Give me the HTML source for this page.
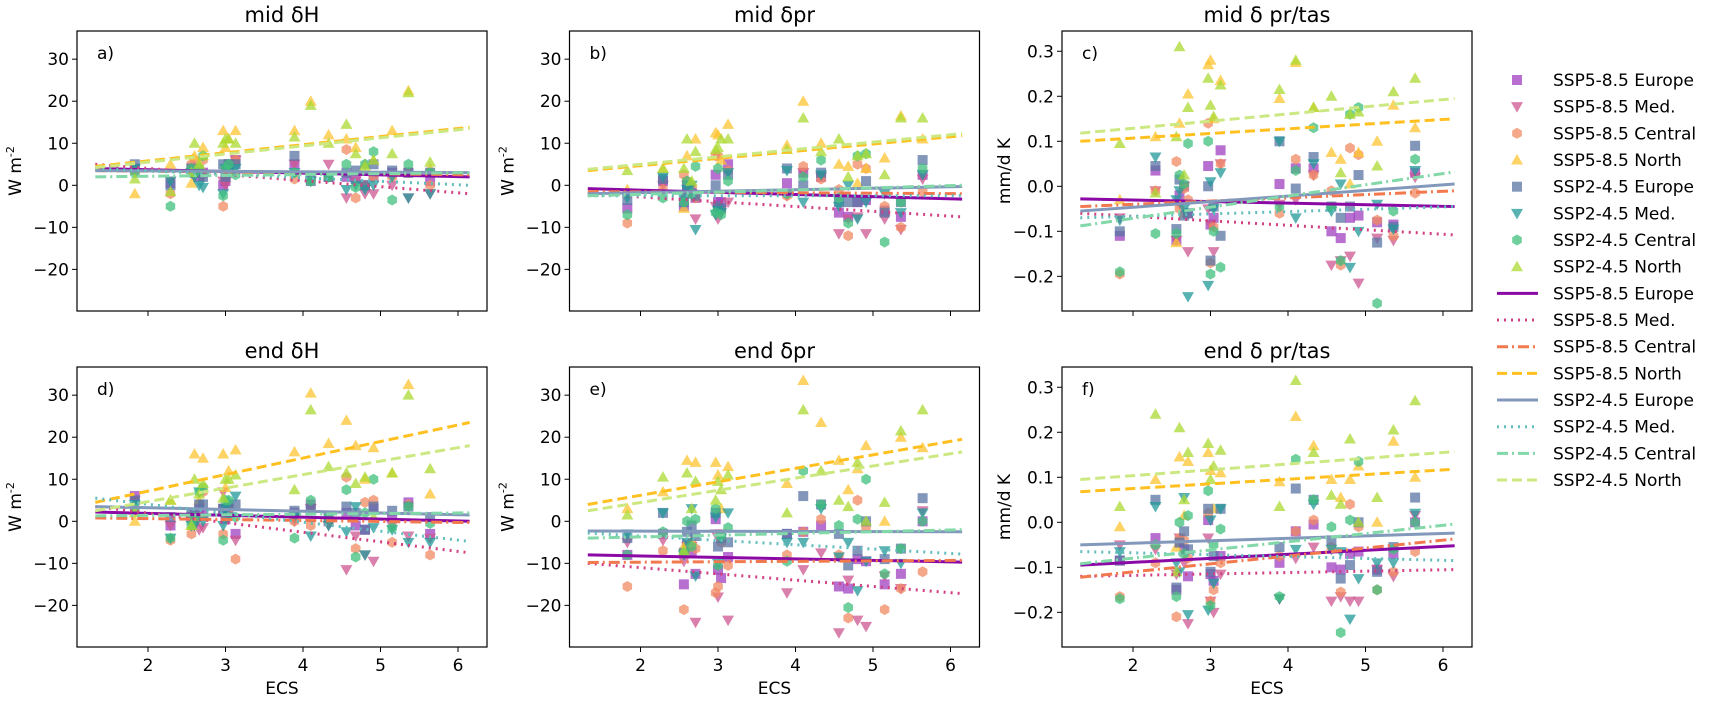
<!DOCTYPE html>
<html><head><meta charset="utf-8">
<style>
body{margin:0;background:#fff;}
svg{display:block;font-family:"DejaVu Sans","Liberation Sans",sans-serif;}
</style></head>
<body>
<svg id="fig" width="1720" height="702" viewBox="0 0 1720 702"></svg>
<script>
// ===== data =====
const ecs = [1.83,2.29,2.56,2.60,2.66,2.71,2.97,3.00,3.04,3.13,3.89,4.10,4.33,4.56,4.68,4.80,4.91,5.15,5.36,5.64];
const seriesNames = ["SSP5-8.5 Europe","SSP5-8.5 Med.","SSP5-8.5 Central","SSP5-8.5 North","SSP2-4.5 Europe","SSP2-4.5 Med.","SSP2-4.5 Central","SSP2-4.5 North"];
const panelTitles = ["mid \u03b4H","mid \u03b4pr","mid \u03b4 pr/tas","end \u03b4H","end \u03b4pr","end \u03b4 pr/tas"];
const panelLetters = ["a)","b)","c)","d)","e)","f)"];
const xTicks = [2,3,4,5,6];
const yTicksW = [-20,-10,0,10,20,30];
const yTicksR = [-0.2,-0.1,0.0,0.1,0.2,0.3];
const trendX = [1.32,6.15];

const panelA = [
 [4,0.5,4,3,2,3,0,1,5,6,5,2,2,2,1.5,0,2,3,3,1],
 [4,1,3,2,3,2,1,0,2,6,5,1,5,-3,1,-2,-2,0,-3,-2],
 [3,-2,5,6,4,6,-5,4,3,6,1.5,1,2,8.5,-3,0,2,2,3,0],
 [-2,5,0.5,7,5,9,13,9,11,13,13,20,12,11,9,5,6,13,22.5,4],
 [5,0,4,3,3,2,5,2,5,5,7,1,2,3,3.5,0,5,3.5,3,3],
 [4,1,3,2,0,-0.5,-2,4,3,4,3,1,2,-1,0,-1,0,2,-3,-2],
 [3,-5,4,3,4,7,-2.5,4,5,2.5,3,1,2,5,-0.5,5,8,-3.5,5,3],
 [1.5,-1.5,3,10,5,7,10,11,11,10,11.5,19,10,14.5,7.5,4.5,6,7.5,22,5.5]];
const trendA = [[4,2],[5,-2],[3.5,2.5],[4.5,13.8],[3.5,3],[4,0],[2,3],[4.2,13.5]];

const panelB = [
 [-5.5,1,-5,-1,-1,-3,2.5,-4,-4,5,0.5,3,2,-6.5,-7.5,-4,-3.5,-6,-7.5,2.5],
 [-2,0,-3,0,-2,-8,-5,-8,-6,-4,-2.5,3,2,-11.5,-8,-7.5,-11.5,-8,-10.5,1.5],
 [-9,-1,2.5,1,-2,-3,7,7,-6,3.5,-2.5,4.5,1.5,-1,-12,5,4,-5,-10,-1.5],
 [-1,4,-5.5,7,0.5,11,12.5,12,6,14.5,9.5,20,10,5,4.5,0.5,4,6.5,16.5,11],
 [-3.5,1.5,-4,0,-2,-2.5,0,-5,-5.5,2.5,4,0,3,-4,-4,-4,1,-6.5,-4,6],
 [-3,2,-3,-1,0,-10.5,-7,-6,-6.5,3,3.5,-4,2.5,-5,0,-8,-4,-2,-6.5,2.5],
 [-7,-3,-4,1,-2,4.5,-6.5,4,-7,1,-2,2,6,-3,-9,7,7.5,-13.5,-4,4],
 [3.5,4,4,11,1,8,8.5,9,11,11,8.5,16,8,11,2,7,7.5,2.5,16,16]];
const trendB = [[-0.8,-3.3],[-2,-7.5],[-1.5,-2],[3.5,11.8],[-2,-0.3],[-2.5,-2.5],[-2.5,0],[3.8,12.3]];

const panelC = [
 [-0.11,0.035,-0.12,-0.02,0,-0.06,0.045,-0.085,-0.07,0.08,0.005,0.04,0.04,-0.1,-0.115,-0.07,-0.065,-0.08,-0.085,0.03],
 [-0.07,-0.01,-0.12,-0.04,0,-0.145,-0.05,-0.085,-0.145,0.05,-0.04,-0.03,0.025,-0.175,-0.165,-0.155,-0.215,-0.115,-0.12,0.02],
 [-0.195,-0.01,0.055,-0.05,-0.005,-0.03,0.14,-0.17,-0.09,0.05,-0.06,0.06,0.025,-0.01,-0.175,0.085,0.07,-0.075,-0.11,-0.015],
 [-0.03,0.11,-0.125,0.14,-0.06,0.205,0.27,0.28,0.15,0.235,0.195,0.275,0.175,0.075,0.06,0.005,0.075,0.1,0.18,0.13],
 [-0.1,0.045,-0.095,0.015,-0.065,-0.06,0,-0.165,-0.045,-0.11,0.1,-0.005,0.065,-0.045,-0.07,-0.045,0.025,-0.125,-0.09,0.09],
 [-0.075,0.065,-0.03,-0.01,-0.05,-0.245,-0.22,0.01,-0.05,0.03,0.1,-0.07,0.05,-0.055,0.005,-0.18,-0.1,-0.04,-0.095,0.035],
 [-0.19,-0.105,-0.105,0.025,0.005,0.095,0.1,-0.195,-0.1,-0.18,-0.045,0.035,0.13,-0.045,-0.165,0.16,0.175,-0.26,-0.055,0.06],
 [0.095,-0.015,0.11,0.31,0.025,0.175,0.24,0.18,0.155,0.225,0.215,0.28,0.175,0.2,0.03,0.16,0.165,0.045,0.21,0.24]];
const trendC = [[-0.028,-0.045],[-0.06,-0.108],[-0.045,-0.01],[0.1,0.15],[-0.055,0.005],[-0.07,-0.045],[-0.088,0.032],[0.118,0.195]];

const panelD = [
 [6,-1,1,0,3,2,3,0.5,2,-3,2,4,0,2,-1,-2,3,1,4.5,-3],
 [5,-1,1,-1,-2,-1.5,7,3,3,-4.5,0,3,-1,-11.5,-3.5,-8,-9.5,-1,-3.5,-4],
 [3,-4.5,-3,1,1,7,-3,1,3,-9,0,-1,0,10.5,-6.5,4.5,5,-5,4,-8],
 [0,5,-1,16,5,15,16,8,12,17,16.5,30.5,18.5,24,18,10,17.5,11.5,32.5,6.5],
 [5,1,2,2,4,4,3,2,4,4,2.5,3,1,3.5,2,-2,3.5,2.5,3.5,1],
 [4,-4,-1,-1,7,0,-1,3,1,6,1,-3.5,-1,-2.5,3.5,-8,-1.5,-2,-5,-5],
 [3,-4,-1,1,7,8,-4.5,5,5,1,-4,5,1,7.5,-8.5,2,10,-1.5,3.5,-0.5],
 [2,5,-1,10,6.5,9,5.5,10,10,11,7.5,26.5,13,11.5,9,10.5,1,11.5,30,12.5]];
const trendD = [[2.2,0],[3.5,-7.5],[0.8,-0.3],[4.5,23.5],[3.5,1.5],[5.5,-4.8],[1.3,2],[2.5,18]];

const panelE = [
 [-8,-3,-15,-5.5,-7,-12.5,0.5,-11.5,-13.5,-8.5,-3,-2.5,-1,-15.5,-16,-9,-9.5,-15,-12.5,0],
 [-5,-4.5,-9.5,-6,-6,-24,-3,-18,-3,-23.5,-17,-11.5,-7.5,-26.5,-14,-23.5,-25,-13,-16,2.5],
 [-15.5,-7,-21,-6.5,-5,-6.5,-17,-15.5,-5,-10.5,-8,-2.5,0.5,-8,-23,5,-1.5,-21,-16,-12],
 [3,7,-6,14.5,-5,14,14,11,3,13,9,33.5,23.5,14.5,7.5,12.5,18,0,20,17.5],
 [-4,2,-7.5,-2.5,-1,-3.5,2,-6,-4,-5,-3,6,4,-3,-10.5,-7,0,-9,-6.5,5.5],
 [-3,2,-8,-5,3,-13,1,-10,-4,2,-5,-5,3,-8.5,-5,-16.5,-9.5,-7,-10,2],
 [-8,-2.5,-7.5,0,-6,0.5,3,-10.5,-3.5,-1.5,-9.5,12,4,-1,-20.5,0.5,10,-12.5,-6.5,0],
 [1.5,10.5,-7,11.5,3,9.5,5,9.5,7.5,11,2,26.5,12,5,3.5,14,0,4.5,21.5,26.5]];
const trendE = [[-8,-9.7],[-10,-17.2],[-9.8,-9.3],[4,19.5],[-2.3,-2.5],[-2.8,-7.8],[-4,-2],[2.5,16.5]];

const panelF = [
 [-0.085,-0.035,-0.15,-0.045,-0.06,-0.12,0.005,-0.115,-0.13,-0.075,-0.09,-0.02,-0.005,-0.1,-0.105,-0.07,-0.065,-0.105,-0.07,0],
 [-0.05,-0.06,-0.115,-0.035,-0.09,-0.225,-0.035,-0.175,-0.2,-0.115,-0.17,-0.08,-0.055,-0.175,-0.165,-0.175,-0.175,-0.105,-0.12,0.015],
 [-0.165,-0.09,-0.21,-0.035,-0.04,-0.08,0.02,-0.175,-0.15,-0.09,-0.075,-0.02,0.005,-0.055,-0.155,0.04,-0.01,-0.15,-0.11,-0.065],
 [-0.01,0.095,-0.055,0.145,0.015,0.135,0.155,0.115,0.03,0.11,0.09,0.235,0.17,0.095,0.055,0.095,0.125,0,0.18,0.1],
 [-0.085,0.05,-0.145,-0.045,-0.02,-0.06,0.03,-0.11,-0.075,0.03,-0.055,0.075,0.05,-0.04,-0.125,-0.095,0,-0.11,-0.055,0.055],
 [-0.065,0.035,-0.09,-0.11,0.055,-0.205,-0.195,0.005,-0.135,0.03,-0.17,-0.06,0.04,-0.06,-0.065,-0.215,-0.125,-0.09,-0.09,0.02],
 [-0.17,-0.05,-0.165,0,-0.07,0.015,0.07,-0.185,-0.05,-0.015,-0.165,0.14,0.05,-0.01,-0.245,0.005,0.135,-0.15,-0.06,0],
 [0.035,0.24,-0.11,0.21,0.05,0.155,0.175,0.095,0.125,0.16,0.035,0.315,0.155,0.06,0.04,0.185,0,0.055,0.205,0.27]];
const trendF = [[-0.095,-0.052],[-0.12,-0.105],[-0.122,-0.037],[0.068,0.118],[-0.05,-0.024],[-0.065,-0.085],[-0.092,-0.004],[0.095,0.157]];

// ===== styles =====
const ptColors = ["#a040c0","#cc5590","#f08a62","#fdc431","#5a74a4","#229898","#40c07c","#acd932"];
const ptShapes = ["square","tridown","hex","triup","square","tridown","hex","triup"];
const lnColors = ["#8b0aa5","#d23f82","#f2784e","#ffc020","#8299bb","#62bdbd","#82d8a8","#cce882"];
const lnDash = ["", "2,5", "11,4,2,4", "10,5", "", "2,5", "11,4,2,4", "10,5"];

const NS="http://www.w3.org/2000/svg";
const svg=document.getElementById('fig');
function el(tag,attrs,parent){const e=document.createElementNS(NS,tag);for(const k in attrs)e.setAttribute(k,attrs[k]);(parent||svg).appendChild(e);return e;}

const colLeft=[77,569.5,1062], rowTop=[31,367], PW=410, PH=280;
const panels=[
 {data:panelA,trend:trendA,ratio:false,col:0,row:0},
 {data:panelB,trend:trendB,ratio:false,col:1,row:0},
 {data:panelC,trend:trendC,ratio:true,col:2,row:0},
 {data:panelD,trend:trendD,ratio:false,col:0,row:1},
 {data:panelE,trend:trendE,ratio:false,col:1,row:1},
 {data:panelF,trend:trendF,ratio:true,col:2,row:1}];
const XMIN=1.084, XMAX=6.374;

function marker(g,shape,cx,cy,color){
  let m;
  if(shape==="square") m=el('rect',{x:cx-5,y:cy-5,width:10,height:10},g);
  else if(shape==="triup") m=el('polygon',{points:`${cx},${cy-6} ${cx-6},${cy+4.5} ${cx+6},${cy+4.5}`},g);
  else if(shape==="tridown") m=el('polygon',{points:`${cx},${cy+6} ${cx-6},${cy-4.5} ${cx+6},${cy-4.5}`},g);
  else {let p=[];for(let i=0;i<6;i++){const a=Math.PI/3*i+Math.PI/6;p.push((cx+5.5*Math.cos(a)).toFixed(1)+","+(cy+5.5*Math.sin(a)).toFixed(1));}m=el('polygon',{points:p.join(' ')},g);}
  m.setAttribute('fill',color);m.setAttribute('fill-opacity','0.75');
  return m;
}
function fmt(v,ratio){const s=ratio?Math.abs(v).toFixed(1):String(Math.abs(v));return (v<0?"\u2212":"")+s;}

panels.forEach((p,pi)=>{
  const L=colLeft[p.col],T=rowTop[p.row];
  const ymin=p.ratio?-0.277:-29.9, ymax=p.ratio?0.345:36.7;
  const sx=v=>L+(v-XMIN)/(XMAX-XMIN)*PW;
  const sy=v=>T+PH-(v-ymin)/(ymax-ymin)*PH;
  const g=el('g',{});
  
  
  const t=el('text',{x:L+PW/2,y:T-9,'text-anchor':'middle','font-size':21,fill:'#000'},g);
  t.textContent=panelTitles[pi];
  
  
  const lt=el('text',{x:L+20,y:T+28,'font-size':17},g);
  lt.textContent=panelLetters[pi];
  
  
  const cid='clip'+pi;
  const cp=el('clipPath',{id:cid},g);el('rect',{x:L,y:T,width:PW,height:PH},cp);
  const pg=el('g',{'clip-path':`url(#${cid})`},g);
  p.data.forEach((vals,si)=>{
    vals.forEach((v,mi)=>{
      if(v===null)return;
      const m=marker(pg,ptShapes[si],sx(ecs[mi]),sy(v),ptColors[si]);
      
      
    });
  });
  p.trend.forEach((tr,si)=>{
    const ln=el('line',{x1:sx(trendX[0]),y1:sy(tr[0]),x2:sx(trendX[1]),y2:sy(tr[1]),stroke:lnColors[si],'stroke-width':3,'stroke-dasharray':lnDash[si]},pg);
    
    
  });
  el('rect',{x:L,y:T,width:PW,height:PH,fill:'none',stroke:'#000','stroke-width':1.2},g);
  xTicks.forEach(v=>{
    const x=sx(v);
    el('line',{x1:x,y1:T+PH,x2:x,y2:T+PH+5,stroke:'#000','stroke-width':1},g);
    if(p.row===1){const tx=el('text',{x:x,y:T+PH+24,'text-anchor':'middle','font-size':17},g);tx.textContent=String(v);
      
      }
  });
  (p.ratio?yTicksR:yTicksW).forEach(v=>{
    const y=sy(v);
    el('line',{x1:L-5,y1:y,x2:L,y2:y,stroke:'#000','stroke-width':1},g);
    const ty=el('text',{x:L-8,y:y+6,'text-anchor':'end','font-size':17},g);ty.textContent=fmt(v,p.ratio);
    
    
  });
  if(p.row===1){const xl=el('text',{x:L+PW/2,y:694,'text-anchor':'middle','font-size':17},g);xl.textContent='ECS';
    
    }
  const yx=p.ratio?L-52:L-56, yc=T+PH/2;
  const yl=el('text',{x:yx,y:yc,'text-anchor':'middle','font-size':17,transform:`rotate(-90 ${yx} ${yc})`},g);
  
  
  if(p.ratio){yl.textContent='mm/d K';}
  else{yl.textContent='W m';const sp=el('tspan',{'font-size':11,dy:-7},yl);sp.textContent='-2';}
});

const lg=el('g',{});


for(let i=0;i<16;i++){
  const y=80+i*26.67, si=i%8;
  const eg=el('g',{},lg);
  
  
  if(i<8){marker(eg,ptShapes[si],1517,y,ptColors[si]);}
  else{el('line',{x1:1497,y1:y,x2:1538,y2:y,stroke:lnColors[si],'stroke-width':3,'stroke-dasharray':lnDash[si]},eg);}
  const tx=el('text',{x:1553,y:y+6,'font-size':17},eg);tx.textContent=seriesNames[si];
}
</script>
</body></html>
